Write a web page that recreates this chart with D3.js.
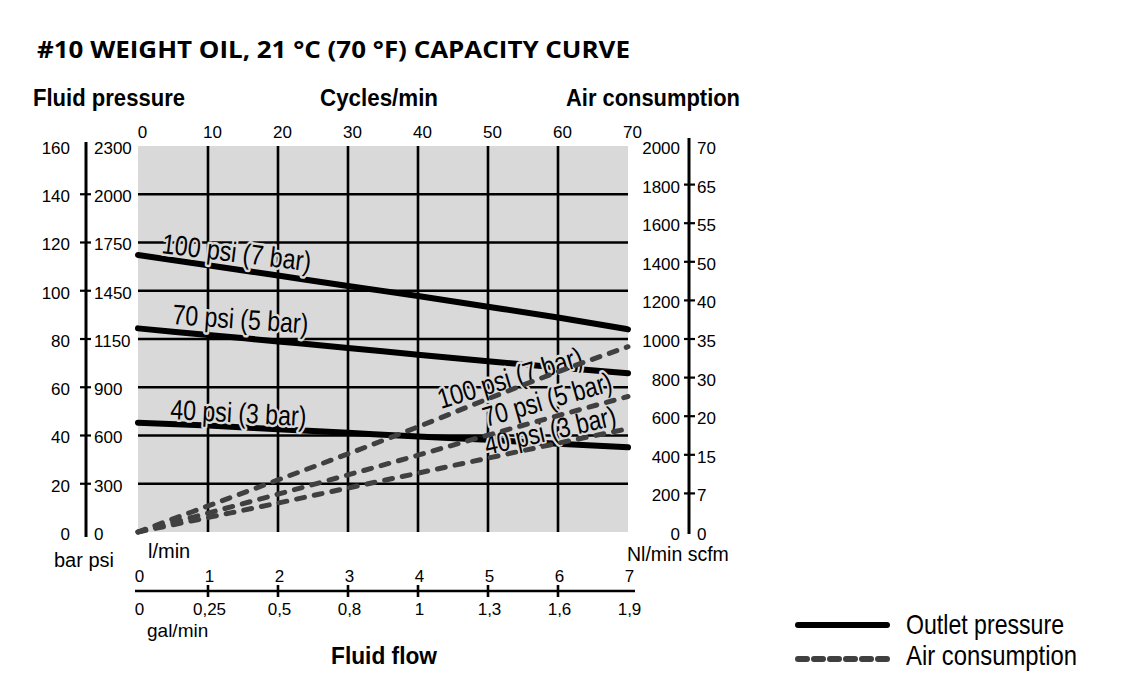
<!DOCTYPE html>
<html>
<head>
<meta charset="utf-8">
<script src="https://cdn.jsdelivr.net/npm/d3@7/dist/d3.min.js"></script>
<style>
  html, body { margin: 0; padding: 0; background: #fff; }
  svg { display: block; }
  text { font-family: "Liberation Sans", Arial, sans-serif; fill: #000; }
</style>
</head>
<body>
<svg id="chart" width="1123" height="686"></svg>
<script>
// ---------- data ----------
const cyclesTicks = [0, 10, 20, 30, 40, 50, 60, 70];
const flowLpm = [0, 1, 2, 3, 4, 5, 6, 7];
const flowGal = ["0", "0,25", "0,5", "0,8", "1", "1,3", "1,6", "1,9"];
const barTicks = [0, 20, 40, 60, 80, 100, 120, 140, 160];
const psiLabels = ["0", "300", "600", "900", "1150", "1450", "1750", "2000", "2300"];
const airNlTicks = [0, 200, 400, 600, 800, 1000, 1200, 1400, 1600, 1800, 2000];
const airScfmLabels = ["0", "7", "15", "20", "30", "35", "40", "50", "55", "65", "70"];

// outlet pressure (bar) at each l/min of flowLpm
const outlet100 = [114.8, 110.6, 106.3, 102.0, 97.8, 93.4, 88.9, 84.0];
const outlet70  = [84.4, 81.7, 79.0, 76.3, 73.5, 70.8, 68.2, 65.8];
const outlet40  = [45.3, 44.1, 42.6, 41.1, 39.6, 38.2, 36.6, 35.1];
// air consumption (Nl/min) at each l/min of flowLpm
const air100 = [0, 135, 270, 405, 545, 690, 830, 960];
const air70  = [0, 98, 196, 296, 398, 502, 603, 702];
const air40  = [0, 75, 150, 228, 305, 383, 460, 535];

const seriesLabels = ["100 psi (7 bar)", "70 psi (5 bar)", "40 psi (3 bar)"];

// ---------- layout ----------
const svg = d3.select("#chart");
const L = 138, R = 628, T = 146, B = 532;
const x = d3.scaleLinear().domain([0, 7]).range([L, R]);
const xc = d3.scaleLinear().domain([0, 70]).range([L, R]);
const yBar = d3.scaleLinear().domain([0, 160]).range([B, T]);
const yAir = d3.scaleLinear().domain([0, 2000]).range([B, T]);
const GRAY = "#d9d9d9";
const numFont = 17;
const intFmt = d3.format("d");

// title
svg.append("text").attr("x", 37).attr("y", 58)
  .attr("textLength", 593).attr("lengthAdjust", "spacingAndGlyphs")
  .style("font-family", "'Open Sans', 'Noto Sans', sans-serif")
  .style("font-weight", 700).style("font-size", "24px")
  .text("#10 WEIGHT OIL, 21 °C (70 °F) CAPACITY CURVE");

// headings
function heading(txt, x0, y0, len) {
  svg.append("text").attr("x", x0).attr("y", y0)
    .attr("textLength", len).attr("lengthAdjust", "spacingAndGlyphs")
    .style("font-weight", 700).style("font-size", "23px").text(txt);
}
heading("Fluid pressure", 33, 106, 152);
heading("Cycles/min", 320, 106, 118);
heading("Air consumption", 566, 106, 174);
heading("Fluid flow", 331, 664, 106);

// plot background
svg.append("rect").attr("x", L).attr("y", T).attr("width", R - L).attr("height", B - T).attr("fill", GRAY);

// grid
const grid = svg.append("g").attr("stroke", "#000").attr("stroke-width", 2.6);
grid.selectAll("line.h").data(barTicks.filter(d => d > 0 && d < 160)).join("line")
  .attr("x1", L).attr("x2", R).attr("y1", d => yBar(d)).attr("y2", d => yBar(d));
grid.selectAll("line.v").data(cyclesTicks.filter(d => d > 0 && d < 70)).join("line")
  .attr("y1", T).attr("y2", B).attr("x1", d => xc(d)).attr("x2", d => xc(d));

// ---------- axes ----------
function styleAxis(g) {
  g.select(".domain").remove();
  g.selectAll(".tick line").remove();
  g.selectAll("text").style("font-size", numFont + "px")
    .style("font-family", "'Liberation Sans', Arial, sans-serif").attr("fill", "#000");
}
// left: bar / psi
svg.append("g").attr("transform", "translate(70,2)")
  .call(d3.axisLeft(yBar).tickValues(barTicks).tickFormat(intFmt).tickSize(0).tickPadding(0)).call(styleAxis);
svg.append("g").attr("transform", "translate(94,2)")
  .call(d3.axisRight(yBar).tickValues(barTicks).tickFormat((d, i) => psiLabels[i]).tickSize(0).tickPadding(0)).call(styleAxis);
svg.append("line").attr("x1", 86).attr("x2", 86).attr("y1", 142).attr("y2", 537)
  .attr("stroke", "#000").attr("stroke-width", 3);
svg.append("g").selectAll("line").data(barTicks.filter(d => d > 0 && d < 160)).join("line")
  .attr("x1", 80).attr("x2", 91).attr("y1", d => yBar(d)).attr("y2", d => yBar(d))
  .attr("stroke", "#000").attr("stroke-width", 2.2);

// right: Nl/min / scfm
svg.append("g").attr("transform", "translate(680,2)")
  .call(d3.axisLeft(yAir).tickValues(airNlTicks).tickFormat(intFmt).tickSize(0).tickPadding(0)).call(styleAxis);
svg.append("g").attr("transform", "translate(697,2)")
  .call(d3.axisRight(yAir).tickValues(airNlTicks).tickFormat((d, i) => airScfmLabels[i]).tickSize(0).tickPadding(0)).call(styleAxis);
svg.append("line").attr("x1", 689).attr("x2", 689).attr("y1", 138).attr("y2", 534)
  .attr("stroke", "#000").attr("stroke-width", 3);
svg.append("g").selectAll("line").data(airNlTicks.filter(d => d > 0 && d < 2000)).join("line")
  .attr("x1", 684).attr("x2", 695).attr("y1", d => yAir(d)).attr("y2", d => yAir(d))
  .attr("stroke", "#000").attr("stroke-width", 2.2);

// top: cycles/min
svg.append("g").attr("transform", "translate(4,138)")
  .call(d3.axisTop(xc).tickValues(cyclesTicks).tickFormat(intFmt).tickSize(0).tickPadding(0)).call(styleAxis);

// bottom: l/min and gal/min
svg.append("g").attr("transform", "translate(1,582)")
  .call(d3.axisTop(x).tickValues(flowLpm).tickFormat(intFmt).tickSize(0).tickPadding(0)).call(styleAxis);
svg.append("g").attr("transform", "translate(1,615)")
  .call(d3.axisTop(x).tickValues(flowLpm).tickFormat((d, i) => flowGal[i]).tickSize(0).tickPadding(0)).call(styleAxis);
svg.append("line").attr("x1", 135).attr("x2", 635).attr("y1", 591).attr("y2", 591)
  .attr("stroke", "#000").attr("stroke-width", 2.6);
svg.append("g").selectAll("line").data(flowLpm.filter(d => d > 0 && d < 7)).join("line")
  .attr("x1", d => x(d)).attr("x2", d => x(d)).attr("y1", 585).attr("y2", 597)
  .attr("stroke", "#000").attr("stroke-width", 2.6);

// unit labels
function unit(txt, x0, y0, fs) {
  svg.append("text").attr("x", x0).attr("y", y0).style("font-size", fs + "px").text(txt);
}
unit("bar psi", 54, 567, 20);
unit("l/min", 148, 558, 20);
unit("Nl/min scfm", 627, 561, 19.5);
unit("gal/min", 147, 637, 19);

// ---------- data lines ----------
const lineBar = d3.line().x((d, i) => x(flowLpm[i])).y(d => yBar(d)).curve(d3.curveMonotoneX);
const lineAir = d3.line().x((d, i) => x(flowLpm[i])).y(d => yAir(d)).curve(d3.curveMonotoneX);

const solid = svg.append("g").attr("fill", "none").attr("stroke", "#000")
  .attr("stroke-width", 6).attr("stroke-linecap", "round").attr("stroke-linejoin", "round");
[outlet100, outlet70, outlet40].forEach(s => solid.append("path").attr("d", lineBar(s)));

// labels with gray halo
function label(txt, x0, y0, ang, len, color) {
  svg.append("text")
    .attr("transform", `translate(${x0},${y0}) rotate(${ang})`)
    .attr("textLength", len).attr("lengthAdjust", "spacingAndGlyphs")
    .style("font-family", "'Liberation Sans Narrow', 'Liberation Sans', Arial, sans-serif")
    .style("font-size", "28px")
    .attr("fill", color)
    .attr("stroke", GRAY).attr("stroke-width", 5).attr("paint-order", "stroke")
    .attr("stroke-linejoin", "round")
    .text(txt);
}
label(seriesLabels[0], 161, 253, 7, 150, "#000");
label(seriesLabels[1], 172, 324, 4, 136, "#000");
label(seriesLabels[2], 170, 419, 3, 136, "#000");
label(seriesLabels[0], 441, 409, -17, 150, "#444");
label(seriesLabels[1], 486, 427, -16, 133, "#444");
label(seriesLabels[2], 487, 455, -13, 134, "#444");

const dashed = svg.append("g").attr("fill", "none").attr("stroke", "#404040")
  .attr("stroke-width", 5).attr("stroke-linecap", "round").attr("stroke-dasharray", "8,10");
[air100, air70, air40].forEach(s => dashed.append("path").attr("d", lineAir(s)));

// ---------- legend ----------
svg.append("line").attr("x1", 798).attr("x2", 887).attr("y1", 625).attr("y2", 625)
  .attr("stroke", "#000").attr("stroke-width", 6).attr("stroke-linecap", "round");
svg.append("line").attr("x1", 798).attr("x2", 887).attr("y1", 659).attr("y2", 659)
  .attr("stroke", "#404040").attr("stroke-width", 6).attr("stroke-linecap", "round")
  .attr("stroke-dasharray", "9,7");
function legendText(txt, y0, len) {
  svg.append("text").attr("x", 906).attr("y", y0)
    .attr("textLength", len).attr("lengthAdjust", "spacingAndGlyphs")
    .style("font-family", "'Liberation Sans Narrow', 'Liberation Sans', Arial, sans-serif")
    .style("font-size", "28px").text(txt);
}
legendText("Outlet pressure", 634, 158);
legendText("Air consumption", 665, 171);
</script>
</body>
</html>
